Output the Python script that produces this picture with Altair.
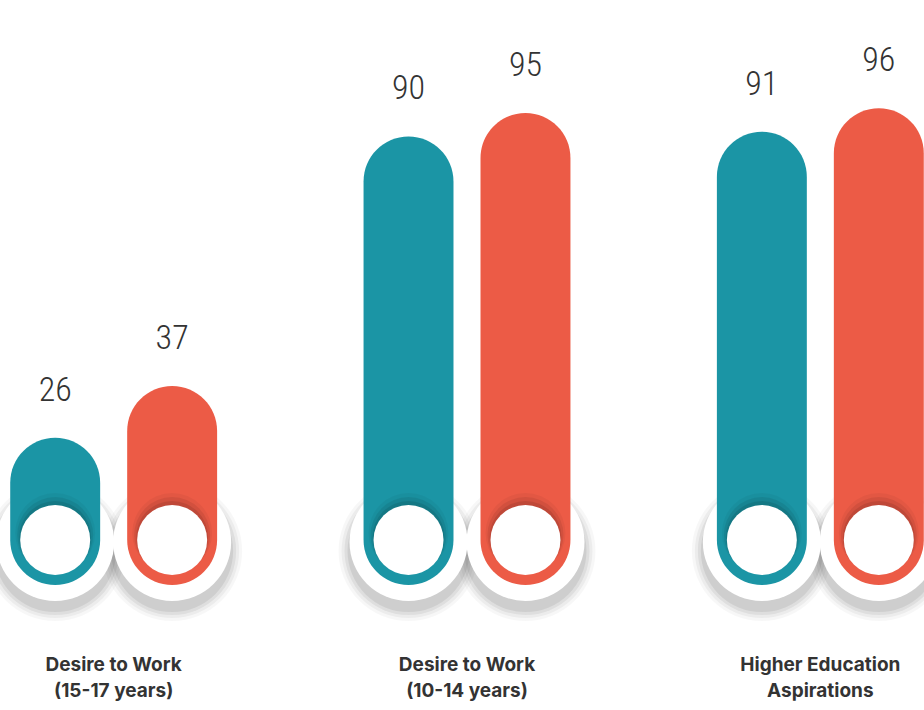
import altair as alt
import pandas as pd

categories = ["Desire to Work\n(15-17 years)", "Desire to Work\n(10-14 years)", "Higher Education\nAspirations"]
series = ["Series A", "Series B"]
values_a = [26, 90, 91]
values_b = [37, 95, 96]

rows = []
for c, a, b in zip(categories, values_a, values_b):
    rows.append({"group": c, "series": series[0], "value": a})
    rows.append({"group": c, "series": series[1], "value": b})
df = pd.DataFrame(rows)

BASE = -5.3
YMAX = 119
TEAL = "#1B95A5"
RED = "#EC5B46"

x_enc = alt.X("group:N", sort=categories,
              scale=alt.Scale(range=[-63, 997], paddingInner=0, paddingOuter=0),
              axis=alt.Axis(title=None, labelExpr="split(datum.label, '\\n')",
                            labelAngle=0, labelFont="Inter", labelFontWeight="bold",
                            labelFontSize=19, labelColor="#333333", labelPadding=70,
                            labelLineHeight=26, domain=False, ticks=False, labelBaseline="top"))
xo_enc = alt.XOffset("series:N", sort=series,
                     scale=alt.Scale(paddingInner=0.231, paddingOuter=0.626))
y_scale = alt.Scale(domain=[BASE, YMAX], zero=False, nice=False)
color_enc = alt.Color("series:N", sort=series,
                      scale=alt.Scale(domain=series, range=[TEAL, RED]), legend=None)

base = alt.Chart(df).transform_calculate(base=str(BASE)).encode(x=x_enc, xOffset=xo_enc)
y_base = alt.Y("base:Q", scale=y_scale, axis=None)

shadows = []
for d, op in [(140, 0.03), (134, 0.045), (128, 0.06), (122, 0.07)]:
    shadows.append(base.mark_circle(size=d * d, color="#000000", opacity=op, yOffset=-34, xOffset=6)
                   .encode(y=y_base))

halo = base.mark_circle(size=118 * 118, color="#ffffff", opacity=1, yOffset=-43).encode(y=y_base)

bars = base.mark_bar(cornerRadius=45).encode(
    y=alt.Y("value:Q", scale=y_scale, axis=None),
    y2="base:Q",
    color=color_enc,
)

inner_sh = []
for d, op, yo in [(80, 0.04, -52), (76, 0.07, -50), (72, 0.09, -48)]:
    inner_sh.append(base.mark_circle(size=d * d, color="#000000", opacity=op, yOffset=yo, xOffset=-2)
                    .encode(y=y_base))

inner = base.mark_circle(size=70 * 70, color="#ffffff", opacity=1, yOffset=-45).encode(y=y_base)

labels = base.mark_text(font="Roboto Condensed, DejaVu Sans Condensed, Roboto", fontWeight=300,
                        fontSize=34, color="#333333",
                        baseline="bottom", dy=-30).encode(
    y=alt.Y("value:Q", scale=y_scale, axis=None),
    text=alt.Text("value:Q"),
)

chart = alt.layer(*shadows, halo, bars, *inner_sh, inner, labels).properties(
    width=924, height=585,
    autosize=alt.AutoSizeParams(type="none"),
    padding={"left": 0, "top": 0, "right": 0, "bottom": 125},
).configure_view(stroke=None).configure_axis(grid=False)

chart.save("out.html", embed_options={"renderer": "svg", "actions": False})
